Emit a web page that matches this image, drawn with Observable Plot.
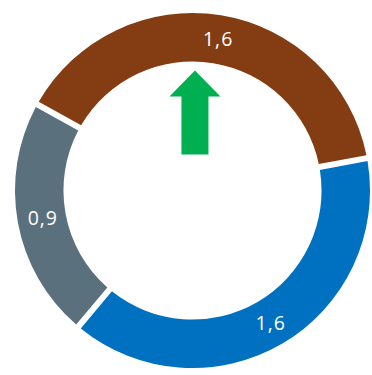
<!DOCTYPE html>
<html>
<head>
<meta charset="utf-8">
<script src="https://cdn.jsdelivr.net/npm/d3@7"></script>
<script src="https://cdn.jsdelivr.net/npm/@observablehq/plot@0.6"></script>
<style>
  html, body { margin: 0; padding: 0; background: #fff; }
  #chart { width: 372px; height: 375px; }
</style>
</head>
<body>
<div id="chart"></div>
<script>
// Data
const categories = ["Segment 1", "Segment 2", "Segment 3"];
const values = [1.6, 1.6, 0.9];
const valueLabels = ["1,6", "1,6", "0,9"];
const colors = ["#843C12", "#0070C0", "#5A707C"];
const trend = ["up"];

const startDeg = -61;
const innerRatio = 0.727;

const pie = d3.pie().sort(null).value(d => d.value)
  .startAngle(startDeg * Math.PI / 180)
  .endAngle(startDeg * Math.PI / 180 + 2 * Math.PI);
const slices = pie(categories.map((c, i) => ({category: c, value: values[i], label: valueLabels[i], color: colors[i]})));
const unitArc = d3.arc().innerRadius(innerRatio).outerRadius(1);
const labelData = slices.map(s => {
  const [cx, cy] = unitArc.centroid(s);
  return {cx, cy, label: s.data.label};
});

function ringMark(index, scales) {
  const {x, y} = scales;
  const cx = x(0), cy = y(0);
  const R = x(1) - x(0);
  const gap = 6;
  const arc = d3.arc()
    .innerRadius(R * innerRatio)
    .outerRadius(R)
    .padRadius(R)
    .padAngle(gap / R);
  const g = d3.create("svg:g").attr("transform", `translate(${cx},${cy})`);
  g.selectAll("path").data(slices).join("path")
    .attr("d", arc)
    .attr("fill", d => d.data.color);
  return g.node();
}

const arrowShape = {
  draw(context, l) {
    const hw = 25.5, sw = 13.5, hh = 26;
    context.moveTo(-sw, 0);
    context.lineTo(-sw, -(l - hh));
    context.lineTo(-hw, -(l - hh));
    context.lineTo(0, -l);
    context.lineTo(hw, -(l - hh));
    context.lineTo(sw, -(l - hh));
    context.lineTo(sw, 0);
    context.closePath();
  }
};

const chart = Plot.plot({
  width: 372,
  height: 375,
  margin: 0,
  x: {domain: [-1, 1], range: [15, 370], axis: null},
  y: {domain: [-1, 1], range: [13, 368], axis: null},
  style: {background: "#fff", fontFamily: "'Open Sans', sans-serif"},
  marks: [
    Plot.dot([0], {x: () => 0, y: () => 0, r: 0}),
    ringMark,
    Plot.text(labelData, {
      x: "cx", y: "cy", text: "label",
      fill: "#fff", fontSize: 19.5, textAnchor: "middle", dx: 0.5
    }),
    Plot.vector(trend, {
      x: () => 0.011, y: () => -0.206,
      length: 84, rotate: 0, anchor: "start",
      shape: arrowShape, fill: "#00B050", stroke: "none"
    })
  ]
});
chart.querySelectorAll("text").forEach(t => t.setAttribute("letter-spacing", "1"));
document.getElementById("chart").appendChild(chart);
</script>
</body>
</html>
